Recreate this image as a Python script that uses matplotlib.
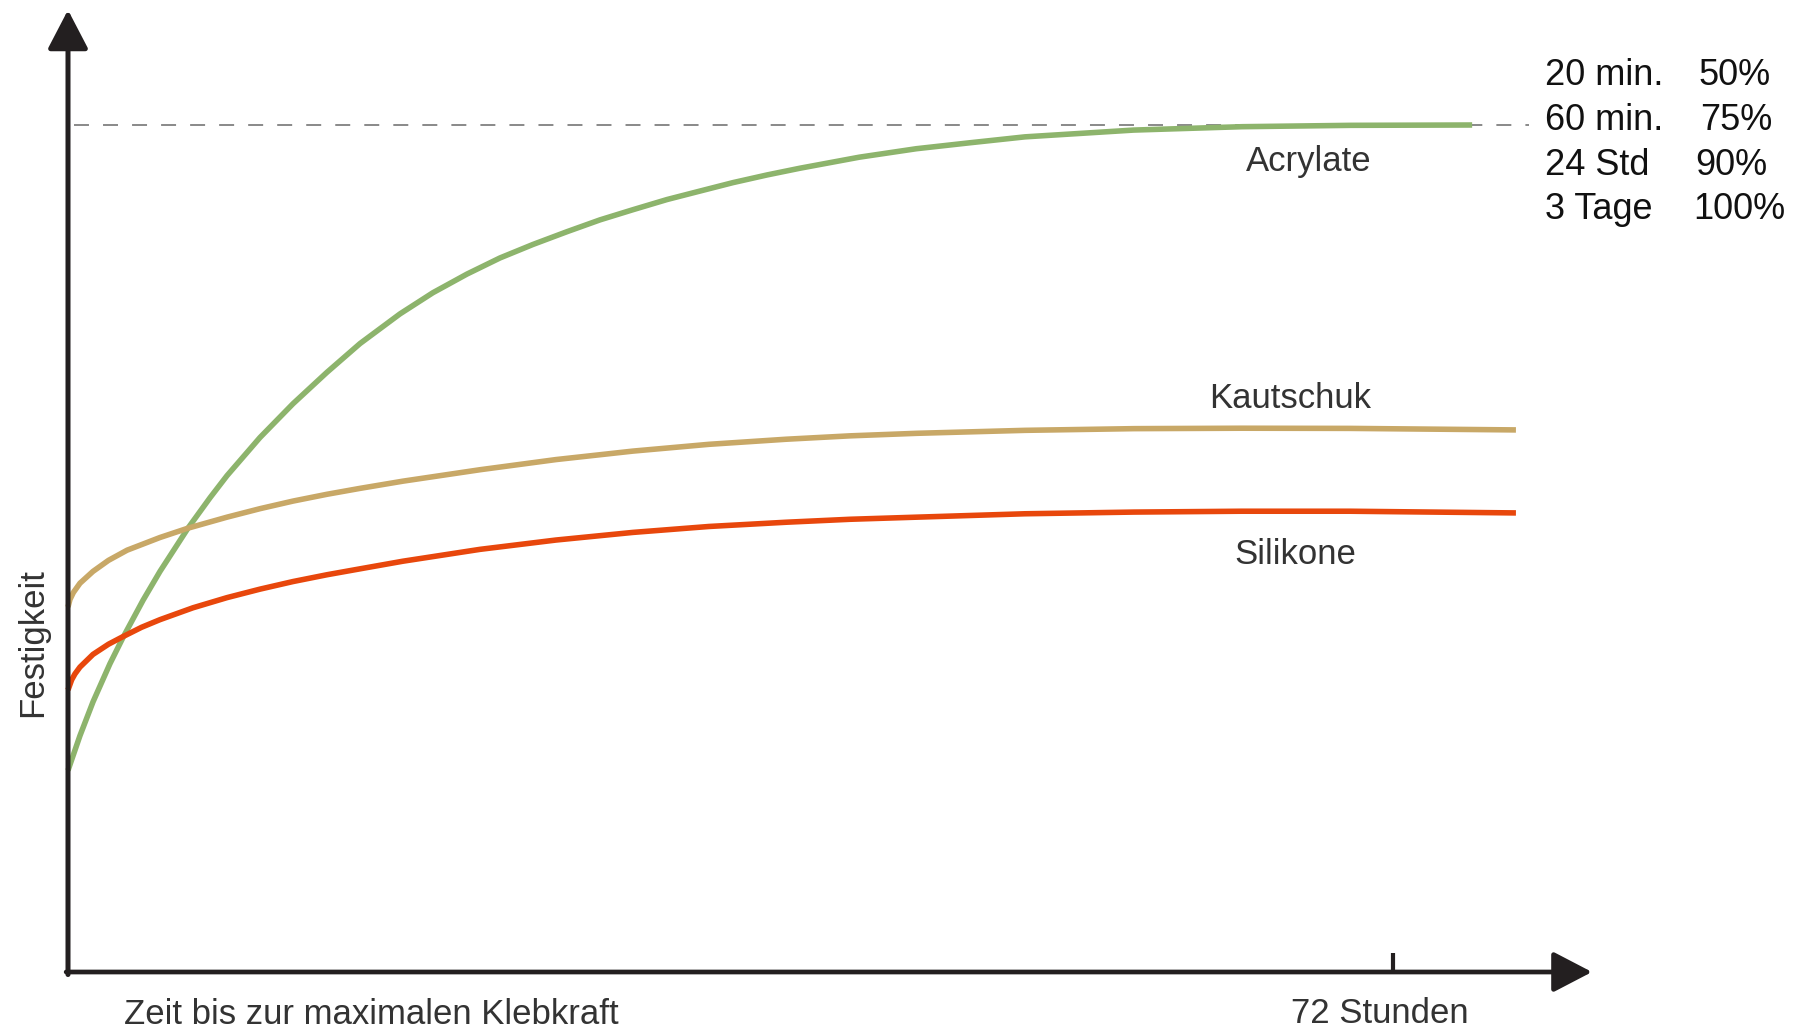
import matplotlib
matplotlib.use("Agg")
import matplotlib.pyplot as plt

plt.rcParams["font.family"] = ["Liberation Sans", "DejaVu Sans"]

# time in hours, strength in % of final bond strength
ACRYLATE_H = [0, 0.65, 1.36, 2.28, 2.99, 4.08, 5.0, 6.52, 7.72, 8.64, 10.43, 12.23, 14.07,
              15.87, 18.04, 19.83, 21.68, 23.47, 25.27, 27.11, 28.91, 30.70, 32.55, 34.34,
              36.14, 37.98, 39.78, 43.0, 46.1, 49.0, 52.0, 57.9, 63.8, 69.7, 76.3]
ACRYLATE_PCT = [23.8, 27.9, 31.9, 36.4, 39.5, 43.9, 47.3, 52.4, 56.0, 58.6, 63.1, 67.1, 70.8,
                74.2, 77.7, 80.2, 82.4, 84.3, 85.9, 87.4, 88.8, 90.0, 91.2, 92.2,
                93.2, 94.1, 94.9, 96.2, 97.2, 97.9, 98.6, 99.4, 99.8, 99.96, 100.0]

KAUTSCHUK_H = [0, 0.11, 0.29, 0.65, 1.36, 2.2, 3.21, 5.0, 6.52, 8.64, 10.43, 12.23, 14.07,
               15.87, 18.2, 22.39, 26.52, 30.7, 34.83, 39.02, 42.49, 46.13, 52.0, 57.92,
               63.79, 69.66, 78.68]
KAUTSCHUK_PCT = [43.1, 44.0, 44.8, 45.9, 47.3, 48.6, 49.8, 51.3, 52.4, 53.7, 54.7, 55.6, 56.4,
                 57.1, 57.95, 59.3, 60.5, 61.5, 62.3, 62.9, 63.3, 63.6, 63.95, 64.15,
                 64.2, 64.18, 64.0]

SILIKONE_H = [0, 0.2, 0.38, 0.65, 1.36, 2.2, 2.99, 4.0, 5.0, 6.79, 8.64, 10.43, 12.23, 14.07,
              15.87, 18.2, 22.39, 26.52, 30.7, 34.83, 39.02, 42.49, 46.13, 52.0, 57.92,
              63.79, 69.66, 78.68]
SILIKONE_PCT = [33.3, 34.5, 35.2, 36.0, 37.5, 38.7, 39.6, 40.7, 41.6, 43.0, 44.2, 45.2, 46.1,
                46.9, 47.6, 48.5, 49.9, 51.0, 51.9, 52.6, 53.1, 53.45, 53.7, 54.1, 54.3,
                54.4, 54.4, 54.2]

SERIES = [("Acrylate", ACRYLATE_H, ACRYLATE_PCT, "#8db46c"),
          ("Kautschuk", KAUTSCHUK_H, KAUTSCHUK_PCT, "#c8a867"),
          ("Silikone", SILIKONE_H, SILIKONE_PCT, "#e8470c")]

MAX_PCT = 100          # dashed reference = final strength
REF_END_H = 79.4
TICK_H = 72
TICK_LABEL = "72 Stunden"

CURE_TIMES = ["20 min.", "60 min.", "24 Std", "3 Tage"]
CURE_PCT = ["50%", "75%", "90%", "100%"]

W, H = 1803, 1028
fig = plt.figure(figsize=(W / 100, H / 100), dpi=100)
x0, y0 = 68, 972                     # axis origin in pixels
ax = fig.add_axes([x0 / W, (H - y0) / H, 1 - x0 / W, y0 / H])
px_per_h = (1393 - x0) / TICK_H
px_per_pct = (y0 - 125) / MAX_PCT
ax.set_xlim(0, (W - x0) / px_per_h)
ax.set_ylim(0, y0 / px_per_pct)
for s in ax.spines.values():
    s.set_visible(False)

dark = "#231f20"
txt = "#333333"
# axes with arrow heads
head = "-|>,head_length=2.4,head_width=1.25"
ax.annotate("", xy=((1592 - x0) / px_per_h, 0), xytext=(-0.1, 0),
            arrowprops=dict(arrowstyle=head, lw=3.4, color=dark, shrinkA=0, shrinkB=0,
                            mutation_scale=10),
            annotation_clip=False)
ax.annotate("", xy=(0, (y0 - 10) / px_per_pct), xytext=(0, -0.3),
            arrowprops=dict(arrowstyle=head, lw=3.6, color=dark, shrinkA=0, shrinkB=0,
                            mutation_scale=10),
            annotation_clip=False)

ax.hlines(MAX_PCT, 0.3, REF_END_H, colors="#6a6a6a", lw=1.1, linestyles=(0, (9.8, 9.2)))

for name, hrs, pct, color in SERIES:
    ax.plot(hrs, pct, color=color, lw=4.0, solid_capstyle="butt", solid_joinstyle="round",
            clip_on=False)

for label, (cx, cy) in zip([s[0] for s in SERIES], [(1309, 161), (1290, 399), (1295, 554)]):
    ax.text(cx, H - cy, label, transform=None, fontsize=25, color=txt,
            ha="center", va="center")

# x tick at 72 h, label set a little left of the tick like the original
ax.set_xticks([TICK_H])
ax.tick_params(axis="x", direction="in", length=14, width=3, color=dark, labelbottom=False)
ax.set_yticks([])
ax.annotate(TICK_LABEL, xy=(TICK_H, 0), xytext=(-13, -51), textcoords="offset pixels",
            fontsize=25, color=txt, ha="center", va="baseline", annotation_clip=False)

ax.set_ylabel("Festigkeit", fontsize=25, color=txt)
ax.yaxis.set_label_coords(-(x0 - 49) / (W - x0), (y0 - 643) / y0)

fig.text(124 / W, 1 - 1024 / H, "Zeit bis zur maximalen Klebkraft", fontsize=25,
         color=txt, ha="left", va="baseline")

baselines = [85, 130, 175, 219]
right_x = [1698, 1700, 1695, 1693]
for t, p, b, rx in zip(CURE_TIMES, CURE_PCT, baselines, right_x):
    fig.text(1545 / W, 1 - b / H, t, fontsize=26, color="#111111", ha="left", va="baseline")
    fig.text(rx / W, 1 - b / H, p, fontsize=26, color="#111111", ha="left", va="baseline")

fig.savefig("out.png", dpi=100, facecolor="white")
